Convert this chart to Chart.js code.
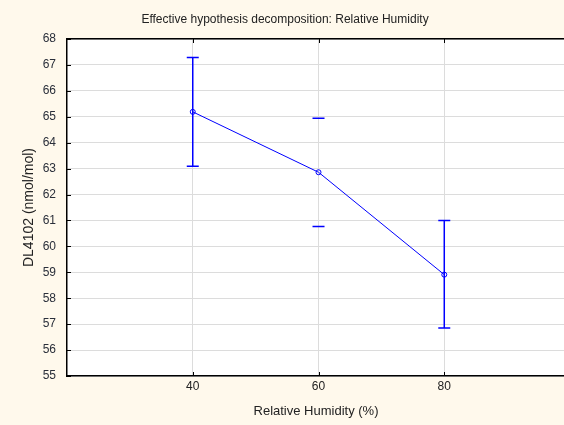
<!DOCTYPE html>
<html>
<head>
<meta charset="utf-8">
<script src="https://cdn.jsdelivr.net/npm/chart.js@4/dist/chart.umd.min.js"></script>
<style>
  html, body { margin: 0; padding: 0; background: #fff9ec; }
  #wrap { width: 564px; height: 425px; overflow: hidden; }
</style>
</head>
<body>
<div id="wrap"><canvas id="chart" width="570" height="425"></canvas></div>
<script>
// data
const humidity = [40, 60, 80];
const meanDL = [65.19, 62.86, 58.91];
const lowerDL = [63.09, 60.77, 56.85];
const upperDL = [67.29, 64.94, 61.00];
const xTicks = [40, 60, 80];
const yMin = 55;
const yMax = 68;

const BLUE = "#0000ff";
const FONT = "'Liberation Sans', Arial, sans-serif";

// white plot area on the cream page
const plotBg = {
  id: "plotBg",
  beforeDraw(chart) {
    const a = chart.chartArea;
    const ctx = chart.ctx;
    ctx.save();
    ctx.fillStyle = "#ffffff";
    ctx.fillRect(a.left, a.top, a.right - a.left, a.bottom - a.top);
    ctx.restore();
  }
};

// vertical error bars (middle one shows only its caps in the original)
const errorBars = {
  id: "errorBars",
  beforeDatasetsDraw(chart, args, opts) {
    const ctx = chart.ctx;
    const x = chart.scales.x, y = chart.scales.y;
    const half = opts.capHalf || 6;
    ctx.save();
    ctx.strokeStyle = BLUE;
    ctx.lineWidth = 1.5;
    humidity.forEach((v, i) => {
      const px = x.getPixelForValue(v);
      const top = y.getPixelForValue(upperDL[i]);
      const bot = y.getPixelForValue(lowerDL[i]);
      ctx.beginPath();
      if (!(opts.noStem || []).includes(i)) {
        ctx.moveTo(px, top);
        ctx.lineTo(px, bot);
      }
      ctx.moveTo(px - half, top);
      ctx.lineTo(px + half, top);
      ctx.moveTo(px - half, bot);
      ctx.lineTo(px + half, bot);
      ctx.stroke();
    });
    ctx.restore();
  }
};

// short inward tick marks like the original frame
const innerTicks = {
  id: "innerTicks",
  afterDraw(chart) {
    const ctx = chart.ctx;
    const a = chart.chartArea;
    const x = chart.scales.x, y = chart.scales.y;
    ctx.save();
    ctx.strokeStyle = "#000";
    ctx.lineWidth = 1;
    ctx.beginPath();
    y.ticks.forEach((t) => {
      const py = Math.round(y.getPixelForValue(t.value)) + 0.5;
      ctx.moveTo(a.left, py);
      ctx.lineTo(a.left + 4, py);
    });
    x.ticks.forEach((t) => {
      const px = Math.round(x.getPixelForValue(t.value)) + 0.5;
      ctx.moveTo(px, a.bottom);
      ctx.lineTo(px, a.bottom - 4);
      ctx.moveTo(px, a.top);
      ctx.lineTo(px, a.top + 4);
    });
    ctx.stroke();
    ctx.restore();
  }
};

new Chart(document.getElementById("chart"), {
  type: "line",
  data: {
    datasets: [{
      data: humidity.map((h, i) => ({ x: h, y: meanDL[i] })),
      borderColor: BLUE,
      borderWidth: 1,
      pointRadius: 2.5,
      pointBorderWidth: 1,
      pointBorderColor: BLUE,
      pointBackgroundColor: "rgba(255,255,255,0)",
      tension: 0,
      fill: false
    }]
  },
  options: {
    responsive: false,
    animation: false,
    layout: { padding: 0 },
    plugins: {
      legend: { display: false },
      tooltip: { enabled: false },
      title: {
        display: true,
        text: "Effective hypothesis decomposition: Relative Humidity",
        color: "#222",
        font: { family: FONT, size: 12, weight: "normal" },
        padding: { top: 12, bottom: 12.6 }
      },
      errorBars: { capHalf: 6, noStem: [1] }
    },
    scales: {
      x: {
        type: "linear",
        min: 20,
        max: 99.2,
        afterBuildTicks(s) { s.ticks = xTicks.map((v) => ({ value: v })); },
        afterFit(s) { s.height = 49; },
        grid: { color: "#dcdcdc", lineWidth: 1, drawTicks: false },
        border: { display: true, color: "#000", width: 1.5 },
        ticks: {
          color: "#222",
          padding: 3,
          font: { family: FONT, size: 12 },
          callback: (v) => String(v)
        },
        title: {
          display: true,
          text: "Relative Humidity (%)",
          color: "#222",
          font: { family: FONT, size: 13 },
          padding: { top: 8, bottom: 6 }
        }
      },
      xTop: {
        type: "linear",
        position: "top",
        min: 20,
        max: 99.2,
        grid: { display: false, drawTicks: false },
        border: { display: true, color: "#000", width: 1.5 },
        ticks: { display: false }
      },
      y: {
        min: yMin,
        max: yMax,
        afterFit(s) { s.width = 67; },
        grid: { color: "#dcdcdc", lineWidth: 1, drawTicks: false },
        border: { display: true, color: "#000", width: 1.5 },
        ticks: {
          stepSize: 1,
          color: "#2a2f3a",
          padding: 11,
          font: { family: FONT, size: 12 }
        },
        title: {
          display: true,
          text: "DL4102 (nmol/mol)",
          color: "#222",
          font: { family: FONT, size: 14 },
          padding: { top: 21, bottom: 0 }
        }
      }
    }
  },
  plugins: [plotBg, errorBars, innerTicks]
});
</script>
</body>
</html>
